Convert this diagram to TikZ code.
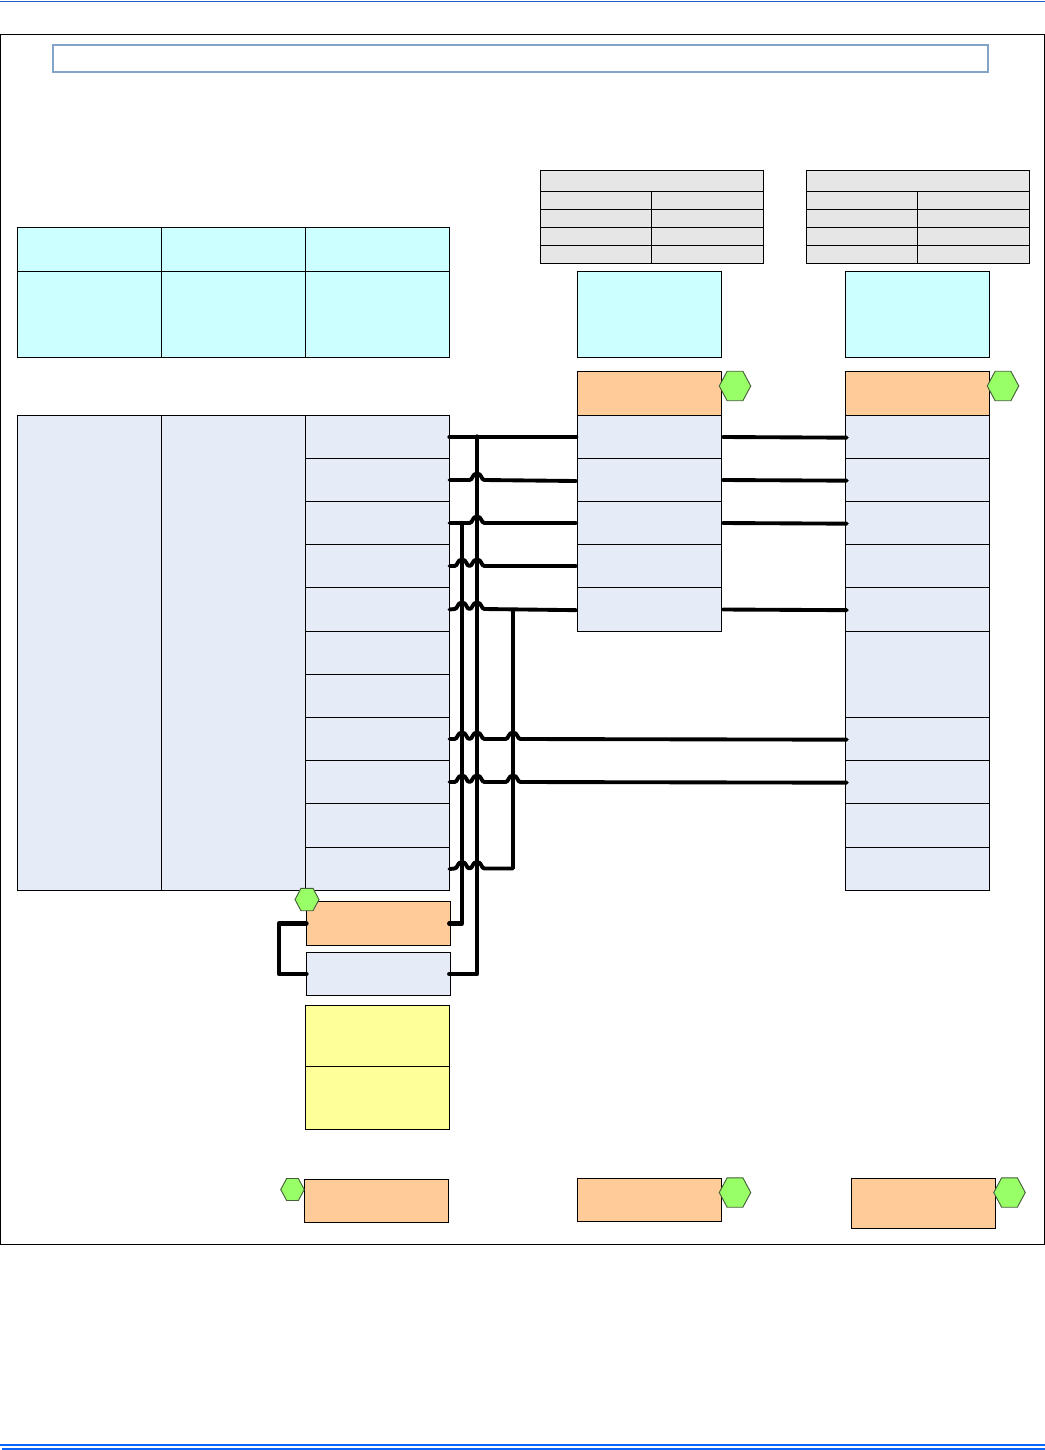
\documentclass[tikz,border=0pt]{standalone}
\usetikzlibrary{shapes.geometric}
\definecolor{gry}{HTML}{E6E6E6}
\definecolor{cyn}{HTML}{CCFFFF}
\definecolor{org}{HTML}{FFCC99}
\definecolor{lbl}{HTML}{E6ECF7}
\definecolor{yel}{HTML}{FFFF99}
\definecolor{grn}{HTML}{99FF66}
\definecolor{grnb}{HTML}{44603A}
\definecolor{ttl}{HTML}{84A3C8}
\definecolor{topb}{HTML}{2060C8}
\definecolor{botb}{HTML}{0A64F5}
\tikzset{
  box/.style={draw=black,line width=0.8pt,inner sep=0pt,outer sep=0pt},
  gbox/.style={box,fill=gry},
  cbox/.style={box,fill=cyn},
  obox/.style={box,fill=org},
  lbox/.style={box,fill=lbl},
  ybox/.style={box,fill=yel},
  tbox/.style={box,draw=ttl,line width=1.5pt,fill=white},
  hexa/.style={shape=regular polygon,regular polygon sides=6,draw=grnb,fill=grn,line width=0.7pt,inner sep=0pt,outer sep=0pt,yscale=1.08,transform shape},
  wire/.style={draw=black,line width=2.9pt,line cap=round,line join=round},
  bwire/.style={wire,line width=3.2pt},
  frame/.style={draw=black,line width=0.8pt},
  pagerule/.style={line width=1.5pt}
}
\newcommand{\bx}[6]{%
  \pgfmathsetmacro\myw{(#5-#3)*0.75}%
  \pgfmathsetmacro\myh{(#6-#4)*0.75}%
  \node[#2,minimum width=\myw pt,minimum height=\myh pt,anchor=north west] (#1) at (#3,#4) {};%
}
\newcommand{\hx}[4]{%
  \pgfmathsetmacro\myw{#4*0.75}%
  \node[hexa,minimum size=\myw pt] (#1) at (#2,#3) {};%
}
\newcommand{\hop}[2]{-- ({#1-7.5},#2) .. controls ({#1-4},#2) and ({#1-5},{#2-6.5}) .. (#1,{#2-6.5}) .. controls ({#1+5},{#2-6.5}) and ({#1+4},#2) .. ({#1+7.5},#2) }
\begin{document}
\begin{tikzpicture}[x=0.75pt,y=-0.75pt]
\useasboundingbox (0,0) rectangle (1045,1450);
% page rules
\coordinate (tl) at (0,1.5); \coordinate (tr) at (1045,1.5);
\draw[pagerule,draw=topb,line width=1pt] (tl) -- (tr);
\coordinate (bl1) at (0,1445); \coordinate (br1) at (1045,1445);
\coordinate (bl2) at (2,1449); \coordinate (br2) at (1045,1449);
\draw[pagerule,draw=botb] (bl1) -- (br1);
\draw[pagerule,draw=botb] (bl2) -- (br2);
% outer frame
\coordinate (fa) at (0.5,34.5); \coordinate (fb) at (1044.3,1244.5);
\draw[frame] (fa) rectangle (fb);
% title
\bx{title}{tbox}{52.5}{45}{987.5}{72}
% grey tables
\bx{ga0}{gbox}{540.5}{170.3}{763.5}{191.3}
\bx{gb0}{gbox}{806.5}{170.3}{1029.5}{191.3}
\bx{ga1}{gbox}{540.5}{191.3}{651.7}{209.3}
\bx{ga2}{gbox}{651.7}{191.3}{763.5}{209.3}
\bx{ga3}{gbox}{540.5}{209.3}{651.7}{227.3}
\bx{ga4}{gbox}{651.7}{209.3}{763.5}{227.3}
\bx{ga5}{gbox}{540.5}{227.3}{651.7}{245.3}
\bx{ga6}{gbox}{651.7}{227.3}{763.5}{245.3}
\bx{ga7}{gbox}{540.5}{245.3}{651.7}{263.5}
\bx{ga8}{gbox}{651.7}{245.3}{763.5}{263.5}
\bx{gb1}{gbox}{806.5}{191.3}{917.7}{209.3}
\bx{gb2}{gbox}{917.7}{191.3}{1029.5}{209.3}
\bx{gb3}{gbox}{806.5}{209.3}{917.7}{227.3}
\bx{gb4}{gbox}{917.7}{209.3}{1029.5}{227.3}
\bx{gb5}{gbox}{806.5}{227.3}{917.7}{245.3}
\bx{gb6}{gbox}{917.7}{227.3}{1029.5}{245.3}
\bx{gb7}{gbox}{806.5}{245.3}{917.7}{263.5}
\bx{gb8}{gbox}{917.7}{245.3}{1029.5}{263.5}
% left cyan table
\bx{lc1}{cbox}{17.5}{227.5}{161.5}{271.5}
\bx{lc2}{cbox}{161.5}{227.5}{305.5}{271.5}
\bx{lc3}{cbox}{305.5}{227.5}{449.5}{271.5}
\bx{lc4}{cbox}{17.5}{271.5}{161.5}{357.5}
\bx{lc5}{cbox}{161.5}{271.5}{305.5}{357.5}
\bx{lc6}{cbox}{305.5}{271.5}{449.5}{357.5}
% left blue columns
\bx{lb1}{lbox}{17.5}{415.5}{161.5}{890.5}
\bx{lb2}{lbox}{161.5}{415.5}{305.5}{890.5}
\bx{r1}{lbox}{305.5}{415.5}{449.5}{458.5}
\bx{r2}{lbox}{305.5}{458.5}{449.5}{501.5}
\bx{r3}{lbox}{305.5}{501.5}{449.5}{544.5}
\bx{r4}{lbox}{305.5}{544.5}{449.5}{587.5}
\bx{r5}{lbox}{305.5}{587.5}{449.5}{631.5}
\bx{r6}{lbox}{305.5}{631.5}{449.5}{674.5}
\bx{r7}{lbox}{305.5}{674.5}{449.5}{717.5}
\bx{r8}{lbox}{305.5}{717.5}{449.5}{760.5}
\bx{r9}{lbox}{305.5}{760.5}{449.5}{803.5}
\bx{r10}{lbox}{305.5}{803.5}{449.5}{847.5}
\bx{r11}{lbox}{305.5}{847.5}{449.5}{890.5}
% middle column
\bx{mc}{cbox}{577.5}{271.5}{721.5}{357.5}
\bx{mo}{obox}{577.5}{371.5}{721.5}{415.5}
\bx{a1}{lbox}{577.5}{415.5}{721.5}{458.5}
\bx{a2}{lbox}{577.5}{458.5}{721.5}{501.5}
\bx{a3}{lbox}{577.5}{501.5}{721.5}{544.5}
\bx{a4}{lbox}{577.5}{544.5}{721.5}{587.5}
\bx{a5}{lbox}{577.5}{587.5}{721.5}{631.5}
% right column
\bx{rc}{cbox}{845.5}{271.5}{989.5}{357.5}
\bx{ro}{obox}{845.5}{371.5}{989.5}{415.5}
\bx{b1}{lbox}{845.5}{415.5}{989.5}{458.5}
\bx{b2}{lbox}{845.5}{458.5}{989.5}{501.5}
\bx{b3}{lbox}{845.5}{501.5}{989.5}{544.5}
\bx{b4}{lbox}{845.5}{544.5}{989.5}{587.5}
\bx{b5}{lbox}{845.5}{587.5}{989.5}{631.5}
\bx{b6}{lbox}{845.5}{631.5}{989.5}{717.5}
\bx{b8}{lbox}{845.5}{717.5}{989.5}{760.5}
\bx{b9}{lbox}{845.5}{760.5}{989.5}{803.5}
\bx{b10}{lbox}{845.5}{803.5}{989.5}{847.5}
\bx{b11}{lbox}{845.5}{847.5}{989.5}{890.5}
% lower stack
\bx{ob}{obox}{306.5}{901.5}{450.5}{945.5}
\bx{bl}{lbox}{306.5}{952.5}{450.5}{995.5}
\bx{y1}{ybox}{305.5}{1005.5}{449.5}{1066.5}
\bx{y2}{ybox}{305.5}{1066.5}{449.5}{1129.5}
% bottom row
\bx{f1}{obox}{304.5}{1179.5}{448.5}{1222.5}
\bx{f2}{obox}{577.5}{1178.5}{721.5}{1221.5}
\bx{f3}{obox}{851.5}{1178.5}{995.5}{1228.5}
% hexagons
\hx{h1}{735}{386}{31.5}
\hx{h2}{1003}{386}{31.5}
\hx{h3}{307}{899.5}{24}
\hx{h4}{292.5}{1189.5}{23.5}
\hx{h5}{735}{1192.5}{31.5}
\hx{h6}{1009.5}{1192.5}{31.5}
% bus junctions
\coordinate (jA) at (462,523);
\coordinate (jB) at (477,436.5);
\coordinate (jC) at (513,609.5);
% wires left to middle
\draw[bwire] (r1.east) -- ([xshift=-1pt]a1.west);
\draw[wire] (r2.east) \hop{477}{480} -- ([xshift=-1pt,yshift=-0.75pt]a2.west);
\draw[wire] (r3.east) \hop{477}{523} -- ([xshift=-1pt]a3.west);
\draw[wire] (r4.east) \hop{462}{566} \hop{477}{566} -- ([xshift=-1pt]a4.west);
\draw[wire] (r5.east) \hop{462}{609} \hop{477}{609} -- ([xshift=-1pt,yshift=-0.5pt]a5.west);
% wires left to right
\draw[wire] (r8.east) \hop{462}{739} \hop{477}{739} \hop{513}{739} -- ([xshift=1pt,yshift=-0.5pt]b8.west);
\draw[wire] (r9.east) \hop{462}{782} \hop{477}{782} \hop{513}{782} -- ([xshift=1pt,yshift=-0.5pt]b9.west);
\draw[wire] (r11.east) \hop{462}{868.5} \hop{477}{868.5} -| (jC);
% wires middle to right
\draw[wire] ([xshift=1pt]a1.east) -- ([xshift=1pt,yshift=-0.5pt]b1.west);
\draw[wire] ([xshift=1pt]a2.east) -- ([xshift=1pt,yshift=-0.5pt]b2.west);
\draw[wire] ([xshift=1pt]a3.east) -- ([xshift=1pt,yshift=-0.5pt]b3.west);
\draw[wire] ([xshift=1pt]a5.east) -- ([xshift=1pt,yshift=-0.5pt]b5.west);
% vertical buses
\draw[bwire] ([xshift=-1pt]ob.east) -| (jA);
\draw[bwire] ([xshift=-1pt]bl.east) -| (jB);
% loop
\coordinate (lp) at (279,950);
\draw[bwire] (ob.west) -| (lp) |- (bl.west);
\end{tikzpicture}
\end{document}
